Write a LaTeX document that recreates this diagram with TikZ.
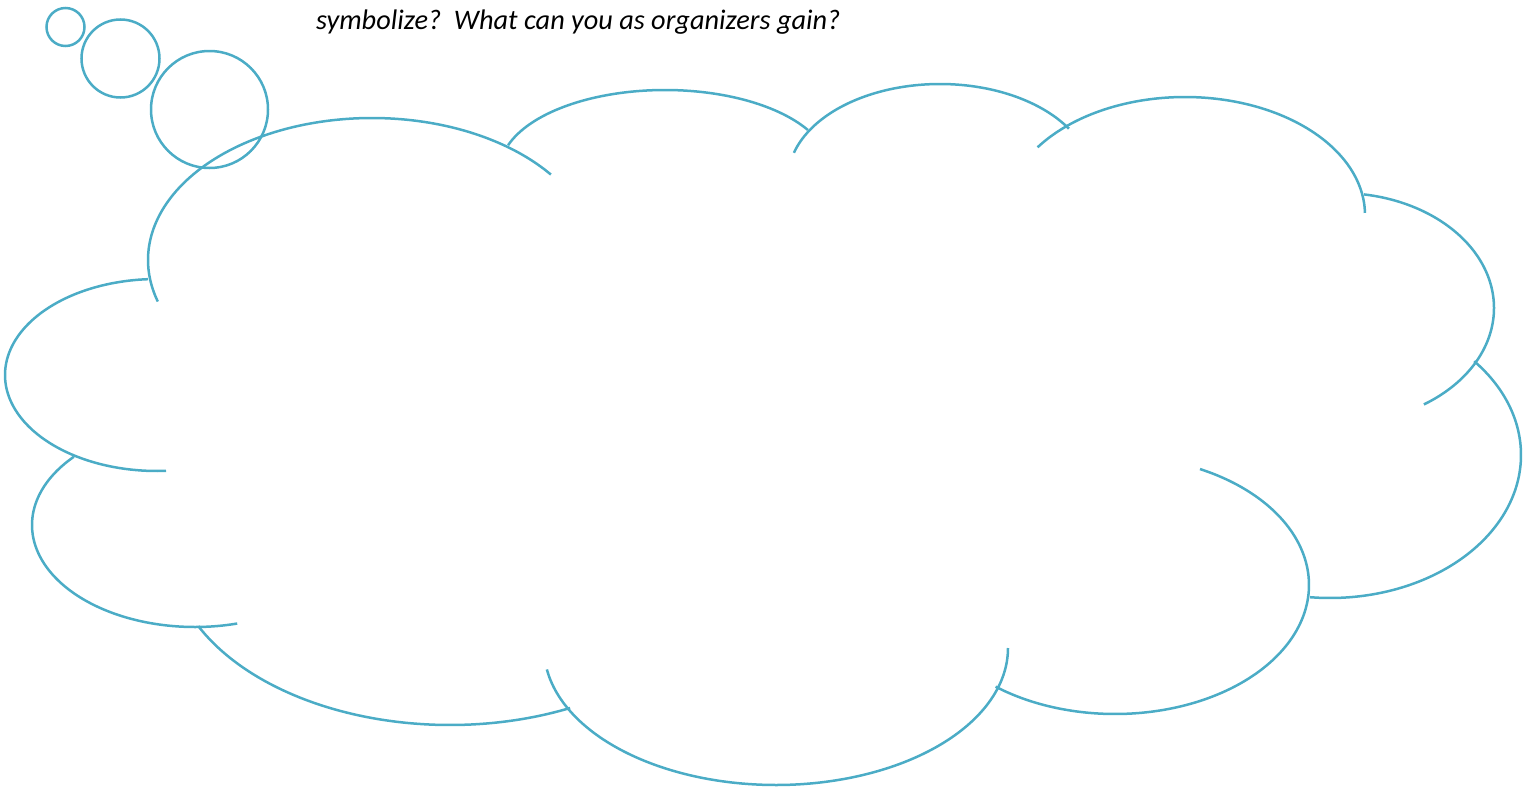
\documentclass[tikz,border=0pt]{standalone}
\usepackage{fontspec}
\setmainfont{Carlito}
\definecolor{cloudblue}{HTML}{4BACC6}
\tikzset{
  cloudline/.style={draw=cloudblue, line width=2.5pt},
  lobe/.style={cloudline, smooth, samples=60, variable=\t}
}
\begin{document}
\begin{tikzpicture}[x=1pt, y=-1pt]
\useasboundingbox (0,0) rectangle (1529,790);
\node[anchor=base west, inner sep=0pt] (question) at (316,29.5)
  {\fontsize{28.3}{34}\selectfont\itshape symbolize?\ \ What can you as organizers gain?};
\draw[cloudline] (65.5,27) circle[radius=19];
\draw[cloudline] (120.5,58.5) circle[radius=39];
\draw[cloudline] (209.5,109.5) circle[radius=58.5];
\draw[lobe, domain=163:323] plot ({372+224*cos(\t)}, {260+142*sin(\t)});
\draw[lobe, domain=198:330] plot ({665+165*cos(\t)}, {170+80*sin(\t)});
\draw[lobe, domain=196:328] plot ({940+152*cos(\t)}, {179+95*sin(\t)});
\draw[lobe, domain=215:359] plot ({1185+180*cos(\t)}, {215+118*sin(\t)});
\draw[lobe, domain=-81:57] plot ({1340+154*cos(\t)}, {308+115*sin(\t)});
\draw[lobe, domain=-41:96] plot ({1330+191*cos(\t)}, {455+143*sin(\t)});
\draw[lobe, domain=-64:128] plot ({1115+194*cos(\t)}, {585+129*sin(\t)});
\draw[lobe, domain=0:171] plot ({776+232*cos(\t)}, {648+137*sin(\t)});
\draw[lobe, domain=64.6:154] plot ({450+280*cos(\t)}, {549+176*sin(\t)});
\draw[lobe, domain=75:222] plot ({195+163*cos(\t)}, {525+102*sin(\t)});
\draw[lobe, domain=86.6:266.6] plot ({157+152*cos(\t)}, {375+96*sin(\t)});
\end{tikzpicture}
\end{document}
